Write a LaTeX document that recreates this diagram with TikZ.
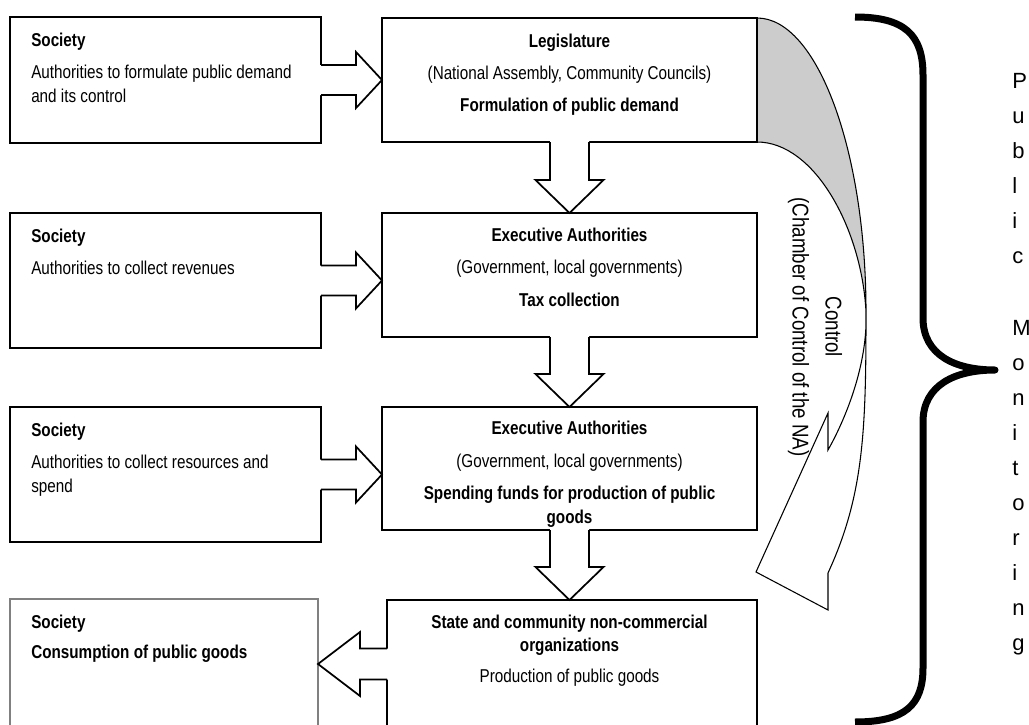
\documentclass[tikz,border=0pt]{standalone}
\usepackage{fontspec}
\setmainfont{Liberation Sans}
\newfontfamily\narrow[FakeStretch=0.82]{Liberation Sans}
\usetikzlibrary{calc}
\newcommand\boxfont{\narrow\fontsize{13.95pt}{16pt}\selectfont}
\newcommand\ctlfont{\narrow\fontsize{17.1pt}{24.75pt}\selectfont}
\newcommand\pmfont{\fontsize{16.5pt}{20pt}\selectfont}
\newcommand\rarr[2]{%
  \coordinate (s) at (#1.east);
  \coordinate (t) at (#2.west |- #1.east);
  \fill[white] ($(s)+(-1.5,-15)$) -- ($(t)+(-26,-15)$) -- ($(t)+(-26,-28)$) -- (t) -- ($(t)+(-26,28)$) -- ($(t)+(-26,15)$) -- ($(s)+(-1.5,15)$) -- cycle;
  \draw[arr] ($(s)+(0,-15)$) -- ($(t)+(-26,-15)$) -- ($(t)+(-26,-28)$) -- (t) -- ($(t)+(-26,28)$) -- ($(t)+(-26,15)$) -- ($(s)+(0,15)$);}
\newcommand\darr[2]{%
  \coordinate (s) at (#1.south);
  \coordinate (t) at (#2.north -| #1.south);
  \fill[white] ($(s)+(-19.5,-1.5)$) -- ($(t)+(-19.5,-33)$) -- ($(t)+(-34,-33)$) -- (t) -- ($(t)+(34,-33)$) -- ($(t)+(19.5,-33)$) -- ($(s)+(19.5,-1.5)$) -- cycle;
  \draw[arr] ($(s)+(-19.5,0)$) -- ($(t)+(-19.5,-33)$) -- ($(t)+(-34,-33)$) -- (t) -- ($(t)+(34,-33)$) -- ($(t)+(19.5,-33)$) -- ($(s)+(19.5,0)$);}
\begin{document}
\begin{tikzpicture}[x=0.75pt,y=-0.75pt,
  box/.style 2 args={draw, line width=1.3pt, minimum width=#1*0.75pt, minimum height=#2*0.75pt,
     inner sep=0, outer sep=0, anchor=north west},
  arr/.style={draw, line width=1.3pt, line join=miter},
  tl/.style={inner sep=0, anchor=base west, font=\boxfont},
  tc/.style={inner sep=0, anchor=base, font=\boxfont},
  pm/.style={inner sep=0, anchor=base west, font=\pmfont}]
\useasboundingbox (0,0) rectangle (1029,725);
\clip (0,0) rectangle (1029,725);
\fill[white] (0,0) rectangle (1029,725);

% gray back face of curved arrow
\coordinate (ca) at (757,18);
\coordinate (cb) at (757,142);
\fill[black!20] (ca) .. controls (817,18) and (866,150) .. (866,312)
   .. controls (862,230) and (815,142) .. (cb) -- cycle;

% left boxes
\node[box={311}{126}] (L1) at (10,17) {};
\node[box={311}{135}] (L2) at (10,213) {};
\node[box={311}{135}] (L3) at (10,407) {};
\node[box={308}{150}, draw=black!50, line width=1pt] (L4) at (10,599) {};
% right boxes
\node[box={375}{124}] (R1) at (382,18) {};
\node[box={375}{124}] (R2) at (382,213) {};
\node[box={375}{123}] (R3) at (382,407) {};
\node[box={370}{150}] (R4) at (387,600) {};

% left texts
\node[tl] (L1a) at ($(L1.north west)+(21,29)$) {\bfseries Society};
\node[tl] (L1b) at ($(L1.north west)+(21,61)$) {Authorities to formulate public demand};
\node[tl] (L1c) at ($(L1.north west)+(21,85)$) {and its control};
\node[tl] (L2a) at ($(L2.north west)+(21,29)$) {\bfseries Society};
\node[tl] (L2b) at ($(L2.north west)+(21,61)$) {Authorities to collect revenues};
\node[tl] (L3a) at ($(L3.north west)+(21,29)$) {\bfseries Society};
\node[tl] (L3b) at ($(L3.north west)+(21,61)$) {Authorities to collect resources and};
\node[tl] (L3c) at ($(L3.north west)+(21,85)$) {spend};
\node[tl] (L4a) at ($(L4.north west)+(21,29)$) {\bfseries Society};
\node[tl] (L4b) at ($(L4.north west)+(21,59)$) {\bfseries Consumption of public goods};

% right texts
\node[tc] (R1a) at ($(R1.north)+(0,29)$) {\bfseries Legislature};
\node[tc] (R1b) at ($(R1.north)+(0,61)$) {(National Assembly, Community Councils)};
\node[tc] (R1c) at ($(R1.north)+(0,93)$) {\bfseries Formulation of public demand};
\node[tc] (R2a) at ($(R2.north)+(0,28)$) {\bfseries Executive Authorities};
\node[tc] (R2b) at ($(R2.north)+(0,60)$) {(Government, local governments)};
\node[tc] (R2c) at ($(R2.north)+(0,93)$) {\bfseries Tax collection};
\node[tc] (R3a) at ($(R3.north)+(0,27)$) {\bfseries Executive Authorities};
\node[tc] (R3b) at ($(R3.north)+(0,60)$) {(Government, local governments)};
\node[tc] (R3c) at ($(R3.north)+(0,92)$) {\bfseries Spending funds for production of public};
\node[tc] (R3d) at ($(R3.north)+(0,116)$) {\bfseries goods};
\node[tc] (R4a) at ($(R3.north |- R4.north)+(0,28)$) {\bfseries State and community non-commercial};
\node[tc] (R4b) at ($(R3.north |- R4.north)+(0,51)$) {\bfseries organizations};
\node[tc] (R4c) at ($(R3.north |- R4.north)+(0,82)$) {Production of public goods};

% block arrows
\rarr{L1}{R1}
\rarr{L2}{R2}
\rarr{L3}{R3}
\darr{R1}{R2}
\darr{R2}{R3}
\darr{R3}{R4}
\coordinate (s3) at ($(R4.north west)+(0,64)$);
\coordinate (t3) at (L4.east |- s3);
\fill[white] ($(s3)+(1.5,-15.5)$) -- ($(t3)+(42,-15.5)$) -- ($(t3)+(42,-32)$) -- (t3) -- ($(t3)+(42,32)$) -- ($(t3)+(42,15.5)$) -- ($(s3)+(1.5,15.5)$) -- cycle;
\draw[arr] ($(s3)+(0,-15.5)$) -- ($(t3)+(42,-15.5)$) -- ($(t3)+(42,-32)$) -- (t3) -- ($(t3)+(42,32)$) -- ($(t3)+(42,15.5)$) -- ($(s3)+(0,15.5)$);

% curved control arrow outline
\draw[line width=0.8pt, line join=miter] (ca) .. controls (817,18) and (866,150) .. (866,312)
   .. controls (866,430) and (864,495) .. (828,573) -- (828,610) -- (756,572) -- (828,413) -- (828,450)
   .. controls (845,420) and (868,365) .. (866,312)
   .. controls (862,230) and (815,142) .. (cb);
\node[rotate=-90, align=center, inner sep=0, font=\ctlfont] (ctl) at (815,327)
   {Control\\(Chamber of Control of the NA)};

% brace
\draw[line width=5.25pt, line join=round] (855,17) .. controls (905,17) and (923,35) .. (923,75)
   -- (923,318) .. controls (923,355) and (955,370) .. (995,370)
   .. controls (955,370) and (923,385) .. (923,422)
   -- (923,668) .. controls (923,705) and (905,722) .. (855,722);

% Public Monitoring
\foreach \ch [count=\k] in {P,u,b,l,i,c}
  \node[pm] (pa\k) at (1012,{88+35*(\k-1)}) {\ch};
\foreach \ch [count=\k] in {M,o,n,i,t,o,r,i,n,g}
  \node[pm] (pb\k) at (1012,{335+35*(\k-1)}) {\ch};
\end{tikzpicture}
\end{document}
